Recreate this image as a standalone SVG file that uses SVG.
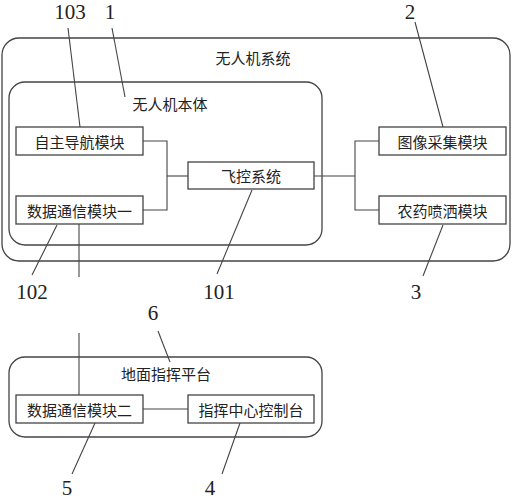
<svg xmlns="http://www.w3.org/2000/svg" width="512" height="500" viewBox="0 0 512 500">
<style>
.box{fill:none;stroke:#444;stroke-width:1.3}
.ln{fill:none;stroke:#444;stroke-width:1.1}
.t{font-family:"Noto Sans CJK SC","Noto Sans CJK JP",sans-serif;font-size:15px;fill:#222;text-anchor:middle;dominant-baseline:central}
.n{font-family:"Liberation Serif",serif;font-size:21px;fill:#222;text-anchor:middle}
</style>
<rect width="512" height="500" fill="#fff"/>
<g id="system">
<rect class="box" x="2" y="38" width="508" height="223" rx="17"/>
<text class="t" x="253" y="57">无人机系统</text>
</g>
<g id="body">
<rect class="box" x="9" y="82" width="313" height="163" rx="16"/>
<text class="t" x="170" y="103">无人机本体</text>
</g>
<g id="nav">
<rect class="box" x="16" y="127" width="127" height="28"/>
<text class="t" x="79.5" y="141">自主导航模块</text>
</g>
<g id="comm1">
<rect class="box" x="16" y="196" width="127" height="28"/>
<text class="t" x="79.5" y="210">数据通信模块一</text>
</g>
<g id="fc">
<rect class="box" x="188" y="162" width="126" height="27"/>
<text class="t" x="251" y="175.5">飞控系统</text>
</g>
<g id="img">
<rect class="box" x="379" y="127" width="127" height="28"/>
<text class="t" x="442.5" y="141">图像采集模块</text>
</g>
<g id="spray">
<rect class="box" x="379" y="196" width="127" height="28"/>
<text class="t" x="442.5" y="210">农药喷洒模块</text>
</g>
<g id="ground">
<rect class="box" x="9" y="357" width="313" height="80" rx="16"/>
<text class="t" x="166" y="373">地面指挥平台</text>
</g>
<g id="comm2">
<rect class="box" x="16" y="395" width="127" height="28"/>
<text class="t" x="79.5" y="409">数据通信模块二</text>
</g>
<g id="console">
<rect class="box" x="188" y="395" width="126" height="28"/>
<text class="t" x="251" y="409">指挥中心控制台</text>
</g>
<g id="connectors">
<polyline class="ln" points="143,141 167,141 167,210 143,210"/>
<line class="ln" x1="167" y1="176" x2="188" y2="176"/>
<line class="ln" x1="314" y1="176" x2="355" y2="176"/>
<polyline class="ln" points="379,141 355,141 355,210 379,210"/>
<line class="ln" x1="79" y1="224" x2="79" y2="277"/>
<line class="ln" x1="79" y1="333" x2="79" y2="395"/>
<line class="ln" x1="143" y1="409" x2="188" y2="409"/>
</g>
<g id="leaders">
<line class="ln" x1="68" y1="28" x2="80" y2="127"/>
<line class="ln" x1="112" y1="28" x2="125" y2="97"/>
<line class="ln" x1="415" y1="22" x2="443" y2="127"/>
<line class="ln" x1="443" y1="225" x2="423" y2="276"/>
<line class="ln" x1="252" y1="190" x2="217" y2="274"/>
<line class="ln" x1="57" y1="225" x2="32" y2="275"/>
<line class="ln" x1="158" y1="331" x2="170" y2="362"/>
<line class="ln" x1="95" y1="423" x2="72" y2="474"/>
<line class="ln" x1="240" y1="423" x2="222" y2="474"/>
</g>
<g id="labels">
<text class="n" x="70" y="19">103</text>
<text class="n" x="110" y="19">1</text>
<text class="n" x="410" y="19">2</text>
<text class="n" x="32" y="299">102</text>
<text class="n" x="219" y="299">101</text>
<text class="n" x="416" y="299">3</text>
<text class="n" x="153" y="320">6</text>
<text class="n" x="67" y="495">5</text>
<text class="n" x="210" y="495">4</text>
</g>
</svg>
